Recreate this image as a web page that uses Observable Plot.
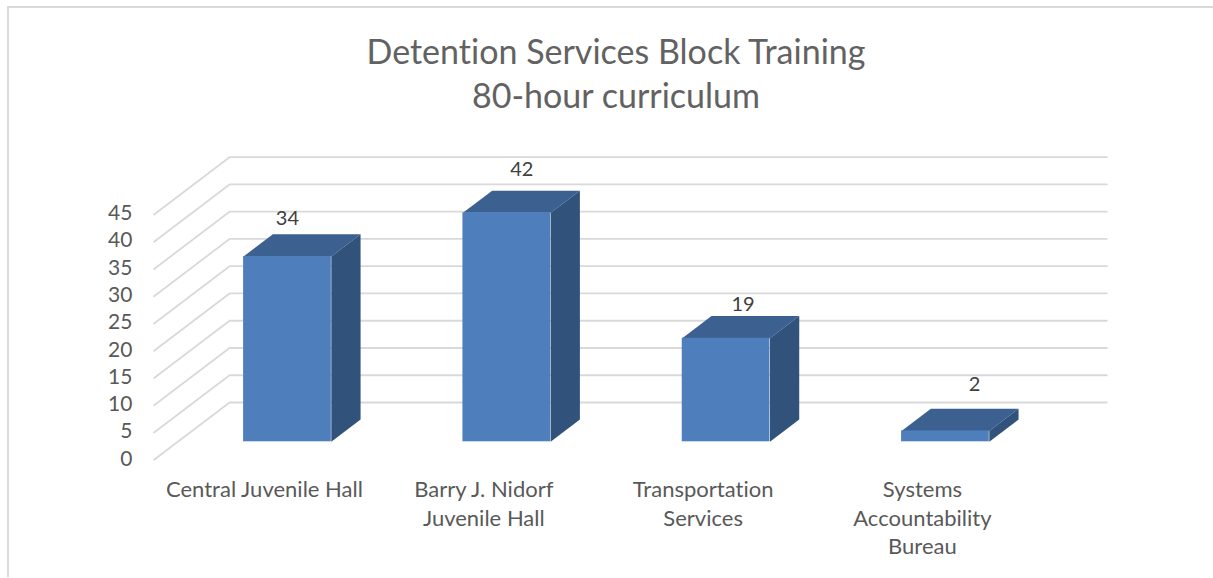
<!DOCTYPE html>
<html>
<head>
<meta charset="utf-8">
<script src="https://cdn.jsdelivr.net/npm/d3@7"></script>
<script src="https://cdn.jsdelivr.net/npm/@observablehq/plot@0.6"></script>
<style>
  html, body { margin: 0; padding: 0; background: #fff; overflow: hidden; }
  #page { position: relative; width: 1213px; height: 578px; }
  #frame { position: absolute; left: 7px; top: 6px; right: 0; bottom: 1px; border-left: 2px solid #d9d9d9; border-top: 2px solid #d9d9d9; pointer-events: none; }
  #title { height: 130px; box-sizing: border-box; padding-top: 29px; padding-left: 19px; text-align: center; font: 400 34px/44px Lato, sans-serif; color: #626262; font-feature-settings: "liga" 0, "clig" 0, "dlig" 0, "calt" 0; letter-spacing: 0.01px; }
  svg { display: block; }
  svg text { font-feature-settings: "liga" 0, "clig" 0, "dlig" 0, "calt" 0; letter-spacing: 0.01px; }
</style>
</head>
<body>
<div id="page">
  <div id="frame"></div>
  <div id="title">Detention Services Block Training<br>80-hour curriculum</div>
  <div id="chart"></div>
</div>
<script>
const categories = ["Central Juvenile Hall", "Barry J. Nidorf\nJuvenile Hall", "Transportation\nServices", "Systems\nAccountability\nBureau"];
const values = [34, 42, 19, 2];
const yTicks = [0, 5, 10, 15, 20, 25, 30, 35, 40, 45];

// Oblique projection: one unit of depth moves a point this far in data units.
const depthX = 0.342, depthY = 10.45;
const floorFront = -0.316, wallBack = 0.69, barBack = 0.39;
const halfBar = 0.2;
const project = (x, y, d) => ({x: x + d * depthX, y: y + d * depthY});

const gridRows = yTicks.flatMap((t) => [
  {tick: t, ...project(-0.5, t, floorFront)},
  {tick: t, ...project(-0.5, t, wallBack)},
  {tick: t, ...project(categories.length - 0.5, t, wallBack)}
]);
const bars = values.map((value, i) => ({i, value}));
const topRows = bars.flatMap(({i, value}) => [
  {i, ...project(i - halfBar, value, 0)},
  {i, ...project(i + halfBar, value, 0)},
  {i, ...project(i + halfBar, value, barBack)},
  {i, ...project(i - halfBar, value, barBack)}
]);
const sideRows = bars.flatMap(({i, value}) => [
  {i, ...project(i + halfBar, 0, 0)},
  {i, ...project(i + halfBar, value, 0)},
  {i, ...project(i + halfBar, value, barBack)},
  {i, ...project(i + halfBar, 0, barBack)}
]);
// The reference's data labels are hand placed, so each has its own nudge.
const labelNudges = [[0, -38], [15, -43], [17, -34], [29, -46]];

const chart = Plot.plot({
  width: 1213,
  height: 448,
  marginLeft: 177.3,
  marginRight: 158.4,
  marginTop: 66,
  marginBottom: 136.7,
  x: {domain: [-0.5, 3.5]},
  y: {domain: [0, 45]},
  style: {background: "transparent", overflow: "visible"},
  marks: [
    Plot.line(gridRows, {x: "x", y: "y", z: "tick", stroke: "#d9d9d9", strokeWidth: 1.8}),
    Plot.line(topRows, {x: "x", y: "y", z: "i", fill: "#3c6190", stroke: "none", curve: "linear-closed"}),
    Plot.line(sideRows, {x: "x", y: "y", z: "i", fill: "#31527a", stroke: "none", curve: "linear-closed"}),
    Plot.rect(bars, {x1: (d) => d.i - halfBar, x2: (d) => d.i + halfBar, y1: 0, y2: "value", fill: "#4e7fbc"}),
    ...bars.map((d, k) => Plot.text([d], {
      x: "i", y: "value", text: "value",
      dx: labelNudges[k][0], dy: labelNudges[k][1],
      fontSize: 20, fontFamily: "Lato", fill: "#404040"
    })),
    Plot.axisY({
      ticks: yTicks, tickSize: 0, tickPadding: 45.3, dy: 17, label: null,
      fontSize: 21, fontFamily: "Lato", color: "#595959"
    }),
    Plot.axisX({
      ticks: d3.range(categories.length), tickFormat: (i) => categories[i],
      tickSize: 0, tickPadding: 35, dx: -23, label: null, lineHeight: 1.3, lineWidth: 30,
      fontSize: 22, fontFamily: "Lato", color: "#595959", textOverflow: null
    })
  ]
});
document.getElementById("chart").appendChild(chart);
</script>
</body>
</html>
